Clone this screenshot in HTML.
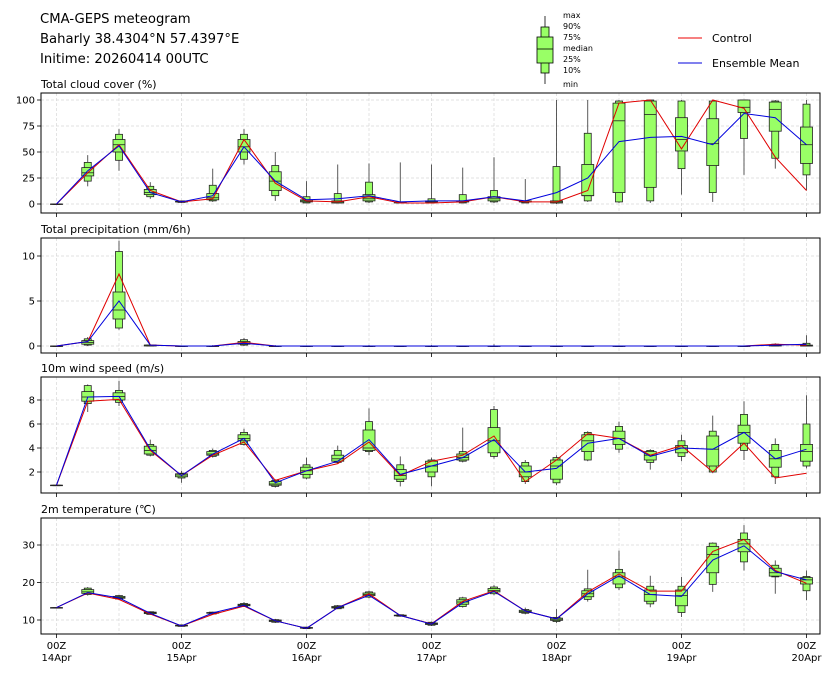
<!DOCTYPE html>
<html><head><meta charset="utf-8">
<style>
body{margin:0;background:#fff;width:832px;height:678px;overflow:hidden;font-family:"Liberation Sans","DejaVu Sans",sans-serif}
svg text{font-family:"DejaVu Sans","Liberation Sans",sans-serif}
</style></head>
<body>
<svg id="chart" width="832" height="678" xmlns="http://www.w3.org/2000/svg">
<text x="40" y="23" font-size="13.2">CMA-GEPS meteogram</text>
<text x="40" y="43" font-size="13.2">Baharly 38.4304°N 57.4397°E</text>
<text x="40" y="63" font-size="13.2">Initime: 20260414 00UTC</text>
<g>
<line x1="545" y1="16" x2="545" y2="84" stroke="#000" stroke-width="0.8"/>
<rect x="541" y="27" width="8" height="46" fill="#99ff66" stroke="#000" stroke-width="0.8"/>
<rect x="537" y="37" width="16" height="26" fill="#99ff66" stroke="#000" stroke-width="0.8"/>
<line x1="537" y1="49" x2="553" y2="49" stroke="#000" stroke-width="0.8"/>
<text x="563" y="18" font-size="8">max</text><text x="563" y="29" font-size="8">90%</text>
<text x="563" y="40" font-size="8">75%</text><text x="563" y="51" font-size="8">median</text>
<text x="563" y="62" font-size="8">25%</text><text x="563" y="73" font-size="8">10%</text>
<text x="563" y="87" font-size="8">min</text>
</g>
<g><line x1="678" y1="38" x2="702" y2="38" stroke="#e00" stroke-width="1"/><text x="712" y="42" font-size="11">Control</text></g>
<g><line x1="678" y1="63" x2="702" y2="63" stroke="#00d" stroke-width="1"/><text x="712" y="67" font-size="11">Ensemble Mean</text></g>
</svg>
<script>
// time steps (hours)
const steps = [0,6,12,18,24,30,36,42,48,54,60,66,72,78,84,90,96,102,108,114,120,126,132,138,144];
const dayLabels = ["14Apr","15Apr","16Apr","17Apr","18Apr","19Apr","20Apr"];
// each box: [min,p10,p25,med,p75,p90,max]
const cloudBoxes = [[0,0,0,0,0,0,0],[17,22,27,30,35,40,47],[32,42,50,57,62,67,72],[5,7,9,11,14,17,21],[1,1.5,2,2,2.5,3,3],[2,3,4,6,10,18,34],[38,43,50,55,62,67,72],[3,8,13,22,31,37,50],[1,1,2,3,4,7,22],[1,1,1,2,3,10,38],[1,2,3,5,9,21,39],[1,1,1,2,2,2,40],[1,1,2,2,3,5,38],[1,1,2,2,3,9,35],[1,2,3,5,7,13,45],[1,1,2,2,3,3,24],[0,1,1,2,3,36,100],[2,3,8,8,38,68,100],[1,2,11,80,97,99,100],[1,3,16,86,99,100,100],[9,34,51,62,83,99,100],[2,11,37,58,82,99,100],[28,63,88,93,100,100,100],[34,44,70,91,98,99,100],[13,28,39,57,74,96,100]];
const cloudCtrl = [0,30,57,13,2,5,62,20,3,2,7,1,1,2,7,2,2,13,97,100,53,100,92,45,13];
const cloudMean = [0,32,56,11,2,8,55,22,4,5,8,2,3,3,7,3,11,25,60,64,65,57,87,83,57];
const precipBoxes = [[0,0,0,0,0,0,0],[0,0.1,0.2,0.4,0.6,0.8,1],[1.8,2,3,4,6,10.5,11.7],[0,0,0,0.1,0.1,0.1,0.2],[0,0,0,0,0,0,0],[0,0,0,0,0,0,0.1],[0,0.1,0.2,0.3,0.5,0.7,0.9],[0,0,0,0,0,0,0.1],[0,0,0,0,0,0,0],[0,0,0,0,0,0,0],[0,0,0,0,0,0,0.1],[0,0,0,0,0,0,0],[0,0,0,0,0,0,0.1],[0,0,0,0,0,0,0],[0,0,0,0,0,0,0.2],[0,0,0,0,0,0,0],[0,0,0,0,0,0,0],[0,0,0,0,0,0,0],[0,0,0,0,0,0,0],[0,0,0,0,0,0,0],[0,0,0,0,0,0,0],[0,0,0,0,0,0,0],[0,0,0,0,0,0,0],[0,0,0,0.05,0.1,0.2,0.3],[0,0,0,0,0.1,0.3,1.2]];
const precipCtrl = [0,0.5,8,0.1,0,0,0.4,0,0,0,0,0,0,0,0,0,0,0,0,0,0,0,0,0.2,0.1];
const precipMean = [0,0.5,5,0.1,0,0,0.3,0,0,0,0,0,0,0,0,0,0,0,0,0,0,0,0,0.1,0.2];
const windBoxes = [[0.9,0.9,0.9,0.9,0.9,0.9,0.9],[7.0,7.7,7.9,8.25,8.7,9.2,9.3],[7.5,7.8,8.0,8.3,8.6,8.8,9.6],[3.3,3.4,3.5,3.8,4.15,4.3,4.7],[1.1,1.5,1.6,1.75,1.85,1.9,2.1],[3.2,3.3,3.4,3.5,3.7,3.8,3.95],[4.2,4.3,4.6,4.8,5.1,5.3,5.6],[0.7,0.8,0.9,1.0,1.2,1.3,1.4],[1.4,1.5,1.8,2.1,2.4,2.6,3.2],[2.7,2.8,2.9,3.1,3.4,3.8,4.2],[3.4,3.7,3.8,4.0,5.5,6.2,7.3],[0.8,1.2,1.4,1.7,2.2,2.6,3.3],[0.8,1.6,2.0,2.5,2.9,3.0,3.2],[2.8,2.9,3.0,3.2,3.5,3.7,5.7],[3.1,3.3,3.6,4.6,5.7,7.2,7.5],[1.0,1.2,1.6,2.0,2.5,2.8,3.0],[0.9,1.1,1.4,2.5,3.0,3.2,3.4],[2.9,3.0,3.7,4.6,5.1,5.3,5.4],[3.6,3.9,4.3,4.8,5.4,5.8,6.2],[2.2,2.8,3.0,3.4,3.7,3.8,3.9],[2.9,3.3,3.6,4.0,4.2,4.6,5.1],[1.9,2.0,2.5,3.9,5.0,5.4,6.7],[3.0,3.8,4.4,5.3,5.9,6.8,7.9],[1.0,1.6,2.4,3.1,3.8,4.3,4.8],[2.3,2.5,2.9,3.7,4.3,6.0,8.4]];
const windCtrl = [0.9,7.9,8.05,3.8,1.7,3.4,4.5,1.3,2.1,2.7,4.5,1.7,2.9,3.4,5.0,1.2,3.0,5.2,4.8,3.4,4.2,2.0,4.4,1.5,1.9];
const windMean = [0.9,8.25,8.3,3.9,1.7,3.5,4.8,1.1,2.1,2.9,4.7,1.8,2.5,3.2,4.7,2.0,2.3,4.4,4.8,3.3,4.0,3.9,5.3,3.1,3.9];
const tempBoxes = [[13.3,13.3,13.3,13.3,13.3,13.3,13.3],[16.5,16.8,17.1,17.5,18.1,18.5,18.8],[15.4,15.6,15.8,16.0,16.3,16.5,16.7],[11.4,11.5,11.7,11.9,12.1,12.2,12.3],[8.2,8.3,8.4,8.5,8.6,8.7,8.8],[11.5,11.6,11.8,11.9,12.0,12.1,12.2],[13.5,13.6,13.8,14.0,14.2,14.4,14.8],[9.2,9.4,9.6,9.8,10.0,10.1,10.3],[7.6,7.7,7.8,7.9,8.0,8.1,8.2],[12.9,13.0,13.2,13.4,13.6,13.8,14.0],[15.8,16.1,16.5,16.8,17.2,17.5,17.8],[10.9,11.0,11.1,11.2,11.3,11.4,11.5],[8.4,8.6,8.8,9.0,9.2,9.4,9.6],[13.3,13.6,14.2,14.8,15.4,15.9,16.2],[16.6,17.0,17.5,17.9,18.4,18.8,19.3],[11.5,11.8,12.0,12.3,12.6,12.8,13.3],[9.2,9.6,9.9,10.2,10.5,10.7,12.9],[14.9,15.5,16.2,17.0,17.8,18.3,23.4],[18.0,18.6,19.6,21.5,22.6,23.5,28.5],[13.4,14.3,15.0,16.8,18.0,19.0,21.8],[10.8,12.0,13.8,16.5,18.0,19.0,21.5],[17.5,19.5,22.6,27.5,29.6,30.5,30.7],[23.2,25.5,28.2,30.3,31.5,33.2,35.3],[17.0,21.5,21.7,22.6,23.8,24.6,25.9],[15.3,17.8,19.6,20.7,21.3,21.6,23.2]];
const tempCtrl = [13.3,17.2,15.5,11.6,8.4,11.5,13.7,9.8,7.8,13.3,17.0,11.2,9.0,15.0,17.8,12.4,10.3,17.5,22.3,17.7,17.7,28.3,31.5,23.2,19.8];
const tempMean = [13.3,17.3,15.9,11.8,8.4,11.9,13.9,9.8,7.8,13.3,16.6,11.2,8.9,14.6,17.6,12.4,10.3,17.0,21.8,16.8,16.3,26.0,29.8,22.9,20.7];
const cloudTicks = [0,25,50,75,100];
const precipTicks = [0,5,10];
const windTicks = [2,4,6,8];
const tempTicks = [10,20,30];

const NS = "http://www.w3.org/2000/svg";
const svg = document.getElementById('chart');
const L = 41, R = 820;
const xScale = h => 56.5 + h * (750 / 144);
function mk(tag, attrs, parent){ const e = document.createElementNS(NS, tag); for (const k in attrs) e.setAttribute(k, attrs[k]); (parent||svg).appendChild(e); return e; }

const panels = [
 {name:'cloud', title:'Total cloud cover (%)', top:93, bot:213, v0:0, y0:204, v1:100, y1:100, ticks:cloudTicks, boxes:cloudBoxes, ctrl:cloudCtrl, mean:cloudMean},
 {name:'precip', title:'Total precipitation (mm/6h)', top:238, bot:353, v0:0, y0:346, v1:10, y1:256, ticks:precipTicks, boxes:precipBoxes, ctrl:precipCtrl, mean:precipMean},
 {name:'wind', title:'10m wind speed (m/s)', top:377, bot:493, v0:2, y0:472, v1:8, y1:400, ticks:windTicks, boxes:windBoxes, ctrl:windCtrl, mean:windMean},
 {name:'temp', title:'2m temperature (\u2103)', top:518, bot:634, v0:10, y0:620, v1:30, y1:545, ticks:tempTicks, boxes:tempBoxes, ctrl:tempCtrl, mean:tempMean}
];

panels.forEach((p, pi) => {
  const ys = v => p.y0 + (v - p.v0) * (p.y1 - p.y0) / (p.v1 - p.v0);
  const g = mk('g', {});
  
  
  const t = mk('text', {x:41, y:p.top - 5, 'font-size':11}, g);
  t.textContent = p.title;
  
  
  for (let h = 0; h <= 144; h += 12) {
    mk('line', {x1:xScale(h), x2:xScale(h), y1:p.top, y2:p.bot, stroke:'#d8d8d8', 'stroke-width':0.7, 'stroke-dasharray':'3,2'}, g);
  }
  p.ticks.forEach(v => {
    const y = ys(v);
    mk('line', {x1:L, x2:R, y1:y, y2:y, stroke:'#d8d8d8', 'stroke-width':0.7, 'stroke-dasharray':'3,2'}, g);
    mk('line', {x1:L-4, x2:L, y1:y, y2:y, stroke:'#000', 'stroke-width':0.8}, g);
    const tl = mk('text', {x:L-6, y:y+3.5, 'font-size':10, 'text-anchor':'end'}, g);
    tl.textContent = v;
    
    
  });
  p.boxes.forEach((b, i) => {
    const x = xScale(steps[i]);
    const bg = mk('g', {}, g);
    
    
    mk('line', {x1:x, x2:x, y1:ys(b[0]), y2:ys(b[6]), stroke:'#333', 'stroke-width':0.8}, bg);
    mk('rect', {x:x-3.5, y:ys(b[5]), width:7, height:Math.max(0.5, ys(b[1]) - ys(b[5])), fill:'#99ff66', stroke:'#222', 'stroke-width':0.8}, bg);
    mk('rect', {x:x-6, y:ys(b[4]), width:12, height:Math.max(0.5, ys(b[2]) - ys(b[4])), fill:'#99ff66', stroke:'#222', 'stroke-width':0.8}, bg);
    mk('line', {x1:x-6, x2:x+6, y1:ys(b[3]), y2:ys(b[3]), stroke:'#222', 'stroke-width':0.8}, bg);
  });
  const pts = arr => arr.map((v, i) => xScale(steps[i]).toFixed(1) + ',' + ys(v).toFixed(1)).join(' ');
  const cl = mk('polyline', {points:pts(p.ctrl), fill:'none', stroke:'#e00000', 'stroke-width':1}, g);
  
  
  const ml = mk('polyline', {points:pts(p.mean), fill:'none', stroke:'#0000dd', 'stroke-width':1}, g);
  
  
  mk('rect', {x:L, y:p.top, width:R-L, height:p.bot-p.top, fill:'none', stroke:'#000', 'stroke-width':1}, g);
  for (let d = 0; d <= 6; d++) {
    const x = xScale(d * 24);
    mk('line', {x1:x, x2:x, y1:p.bot, y2:p.bot+4, stroke:'#000', 'stroke-width':0.8}, g);
    if (pi === 3) {
      const a = mk('text', {x:x, y:p.bot+15, 'font-size':10, 'text-anchor':'middle'}, g);
      a.textContent = '00Z';
      
      
      const b = mk('text', {x:x, y:p.bot+27, 'font-size':10, 'text-anchor':'middle'}, g);
      b.textContent = dayLabels[d];
      
      
    }
  }
});
</script>
</body></html>
